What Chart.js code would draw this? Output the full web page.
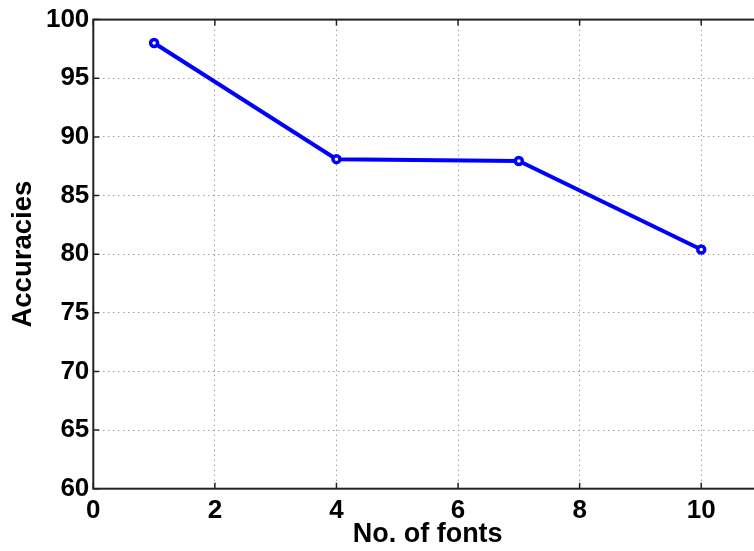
<!DOCTYPE html>
<html>
<head>
<meta charset="utf-8">
<script src="https://cdn.jsdelivr.net/npm/chart.js@4/dist/chart.umd.min.js"></script>
<style>
  html, body { margin: 0; padding: 0; background: #fff; }
  body { width: 754px; height: 551px; overflow: hidden; }
  canvas { display: block; }
</style>
</head>
<body>
<canvas id="c" width="772" height="551" style="width:772px;height:551px"></canvas>
<script>
// Recognition accuracy against the number of fonts used
const fonts = [1, 4, 7, 10];
const accuracies = [98.0, 88.1, 87.95, 80.4];
const xTicks = [0, 2, 4, 6, 8, 10];
const yTicks = [60, 65, 70, 75, 80, 85, 90, 95, 100];

const FONT = "'Liberation Sans', Arial, Helvetica, sans-serif";

// Axes box with inward tick marks on all four sides
const boxPlugin = {
  id: 'box',
  beforeDatasetsDraw(chart) {
    const { ctx, chartArea: a, scales } = chart;
    const len = 6;
    ctx.save();
    ctx.strokeStyle = '#222';
    ctx.lineWidth = 1.5;
    ctx.beginPath();
    xTicks.forEach(v => {
      const px = scales.x.getPixelForValue(v);
      ctx.moveTo(px, a.bottom); ctx.lineTo(px, a.bottom - len);
      ctx.moveTo(px, a.top); ctx.lineTo(px, a.top + len);
    });
    yTicks.forEach(v => {
      const py = scales.y.getPixelForValue(v);
      ctx.moveTo(a.left, py); ctx.lineTo(a.left + len, py);
      ctx.moveTo(a.right, py); ctx.lineTo(a.right - len, py);
    });
    ctx.stroke();
    ctx.lineWidth = 2;
    ctx.strokeRect(a.left, a.top, a.right - a.left, a.bottom - a.top);
    ctx.restore();
  }
};

new Chart(document.getElementById('c'), {
  type: 'line',
  data: {
    datasets: [{
      data: fonts.map((f, i) => ({ x: f, y: accuracies[i] })),
      borderColor: '#0000ff',
      borderWidth: 4,
      pointRadius: 3.5,
      pointBorderWidth: 3.5,
      pointBackgroundColor: '#ffffff',
      pointBorderColor: '#0000ff',
      tension: 0,
      fill: false
    }]
  },
  options: {
    responsive: false,
    devicePixelRatio: 1,
    animation: false,
    layout: { padding: { top: 19.3, right: 10, left: 0, bottom: 0 } },
    plugins: { legend: { display: false }, tooltip: { enabled: false } },
    scales: {
      x: {
        type: 'linear',
        min: 0, max: 11,
        afterBuildTicks: s => { s.ticks = xTicks.map(v => ({ value: v })); },
        afterFit: s => { s.height = 62.3; },
        ticks: { color: '#000', font: { family: FONT, size: 26, weight: 'bold' }, padding: 7, maxRotation: 0, autoSkip: false },
        grid: { color: '#a0a0a0', lineWidth: 1, drawTicks: false },
        border: { display: false, dash: [1.5, 3.5] },
        title: { display: true, text: 'No. of fonts', color: '#000', font: { family: FONT, size: 27, weight: 'bold' }, padding: { top: 2, bottom: 0 } }
      },
      y: {
        min: 60, max: 100,
        afterBuildTicks: s => { s.ticks = yTicks.map(v => ({ value: v })); },
        afterFit: s => { s.width = 93.3; },
        ticks: { color: '#000', font: { family: FONT, size: 26, weight: 'bold' }, padding: 4, autoSkip: false },
        grid: { color: '#a0a0a0', lineWidth: 1, drawTicks: false },
        border: { display: false, dash: [1.5, 3.5] },
        title: { display: true, text: 'Accuracies', color: '#000', font: { family: FONT, size: 27.5, weight: 'bold' }, padding: { top: 7, bottom: 0 } }
      }
    }
  },
  plugins: [boxPlugin]
});
</script>
</body>
</html>
